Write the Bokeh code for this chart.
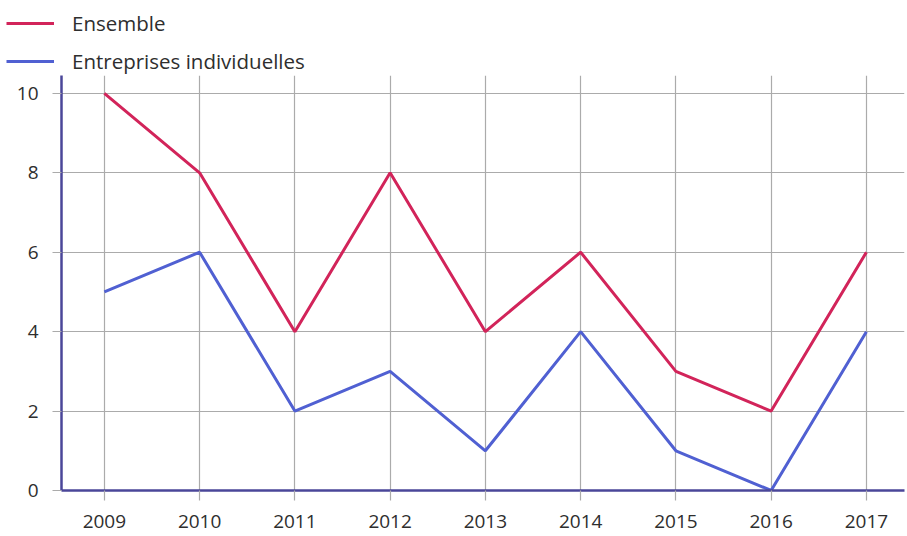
from bokeh.plotting import figure
from bokeh.models import Legend, LegendItem, Range1d, FixedTicker
from bokeh.layouts import column
from bokeh.embed import file_html
from bokeh.resources import INLINE

years = [2009, 2010, 2011, 2012, 2013, 2014, 2015, 2016, 2017]
ensemble = [10, 8, 4, 8, 4, 6, 3, 2, 6]
individuelles = [5, 6, 2, 3, 1, 4, 1, 0, 4]
y_ticks = [0, 2, 4, 6, 8, 10]
series_names = ["Ensemble", "Entreprises individuelles"]

RED = "#d2245a"
BLUE = "#5060d2"
AXIS = "#4a4699"
GRID = "#ababab"
FONT = "Open Sans"
TXT = "#2e2e2e"

# ---- main chart ----
p = figure(width=906, height=460, output_backend="svg", toolbar_location=None,
           x_range=Range1d(2008.55, 2017.4), y_range=Range1d(0, 10.45),
           min_border_left=61, min_border_right=2, min_border_top=0, min_border_bottom=45)
p.outline_line_color = None
p.frame_align = False

p.line(years, ensemble, line_color=RED, line_width=3)
p.line(years, individuelles, line_color=BLUE, line_width=3)

for ax in (p.xaxis[0], p.yaxis[0]):
    ax.axis_line_color = AXIS
    ax.axis_line_width = 2.5
    ax.major_tick_line_color = GRID
    ax.major_tick_line_width = 1.2
    ax.major_tick_in = 0
    ax.minor_tick_line_color = None
    ax.major_label_text_font = FONT
    ax.major_label_text_font_size = "19px"
    ax.major_label_text_color = TXT

p.xaxis.ticker = FixedTicker(ticks=years)
p.xaxis.major_tick_out = 10
p.xaxis.major_label_standoff = 14
p.yaxis.ticker = FixedTicker(ticks=y_ticks)
p.yaxis.major_tick_out = 9
p.yaxis.major_label_standoff = 14

p.xgrid.ticker = FixedTicker(ticks=years)
p.xgrid.bounds = (0, 10.2)
p.ygrid.ticker = FixedTicker(ticks=y_ticks)
p.grid.grid_line_color = GRID
p.grid.grid_line_width = 1.2

# ---- legend strip above the chart ----
lg = figure(width=906, height=75, output_backend="svg", toolbar_location=None,
            x_axis_type=None, y_axis_type=None,
            x_range=Range1d(0, 1), y_range=Range1d(0, 1),
            min_border_left=0, min_border_right=0, min_border_top=0, min_border_bottom=0)
lg.frame_align = False
lg.outline_line_color = None
lg.grid.visible = False
l1 = lg.line(years, ensemble, line_color=RED, line_width=3)
l2 = lg.line(years, individuelles, line_color=BLUE, line_width=3)

legend = Legend(items=[LegendItem(label=series_names[0], renderers=[l1]),
                       LegendItem(label=series_names[1], renderers=[l2])],
                location=(6, 0), orientation="vertical",
                label_text_font=FONT, label_text_font_size="20.5px",
                label_text_color=TXT,
                glyph_width=48, glyph_height=24, label_height=24,
                label_standoff=18, spacing=10, padding=4, margin=0,
                border_line_color=None, background_fill_alpha=0)
lg.add_layout(legend)

layout = column(lg, p, spacing=0)
open("out.html", "w").write(file_html(layout, INLINE))
